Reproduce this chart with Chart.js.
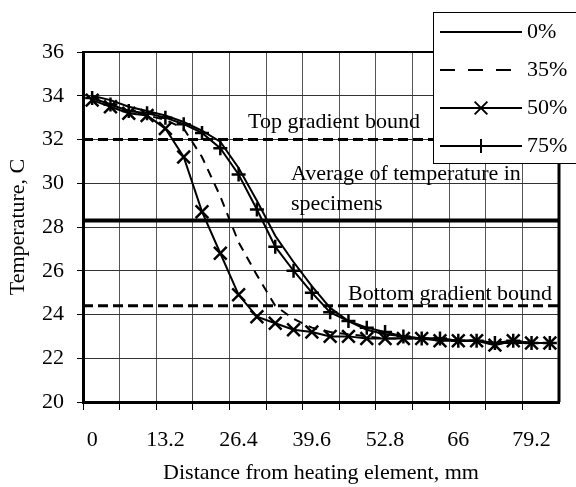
<!DOCTYPE html>
<html>
<head>
<meta charset="utf-8">
<script src="https://cdn.jsdelivr.net/npm/chart.js@4/dist/chart.umd.min.js"></script>
<style>
  html, body { margin: 0; padding: 0; background: #fff; }
  canvas { display: block; }
</style>
</head>
<body>
<canvas id="tempChart" width="576" height="487"></canvas>
<script>
// distance from heating element, mm (one category per reading)
const categories = ['0', '3.3', '6.6', '9.9', '13.2', '16.5', '19.8', '23.1', '26.4', '29.7', '33', '36.3', '39.6',
    '42.9', '46.2', '49.5', '52.8', '56.1', '59.4', '62.7', '66', '69.3', '72.6', '75.9', '79.2', '82.5'];

// temperature, C
const temp0 = [34.0, 33.8, 33.5, 33.3, 33.1, 32.8, 32.4, 31.9, 30.7, 29.2, 27.6, 26.4, 25.3,
    24.3, 23.7, 23.3, 23.1, 23.0, 22.9, 22.9, 22.8, 22.8, 22.7, 22.7, 22.7, 22.7];
const temp35 = [33.9, 33.6, 33.3, 33.1, 32.9, 32.5, 31.2, 29.4, 27.3, 25.8, 24.4, 23.8, 23.4,
    23.2, 23.1, 23.0, 22.9, 22.9, 22.9, 22.8, 22.8, 22.8, 22.7, 22.8, 22.7, 22.7];
const temp50 = [33.8, 33.5, 33.2, 33.1, 32.5, 31.2, 28.7, 26.8, 24.9, 23.9, 23.6, 23.3, 23.2,
    23.0, 23.0, 22.9, 22.9, 22.9, 22.9, 22.8, 22.8, 22.8, 22.6, 22.8, 22.7, 22.7];
const temp75 = [33.9, 33.6, 33.3, 33.2, 33.0, 32.7, 32.3, 31.6, 30.4, 28.8, 27.1, 26.0, 25.0,
    24.1, 23.7, 23.4, 23.2, 23.0, 22.9, 22.9, 22.8, 22.8, 22.7, 22.8, 22.7, 22.7];
const seriesLabels = ['0%', '35%', '50%', '75%'];

// horizontal reference lines
const topBound = 32;
const averageTemp = 28.3;
const bottomBound = 24.4;
const yTicks = [20, 22, 24, 26, 28, 30, 32, 34, 36];

const FONT = { family: '"Liberation Serif", "Times New Roman", serif', size: 22 };
const fontStr = '22px "Liberation Serif", "Times New Roman", serif';

const hLine = (v) => [{ x: 0, y: v }, { x: 1, y: v }];

// annotation texts + legend drawn over the plot
const overlay = {
    id: 'overlay',
    afterDraw(chart) {
        const { ctx, chartArea: a, scales: { y } } = chart;
        ctx.save();
        // plot frame
        ctx.strokeStyle = '#000';
        ctx.lineWidth = 2;
        ctx.beginPath();
        ctx.moveTo(a.left, a.top);
        ctx.lineTo(a.right, a.top);
        ctx.stroke();
        ctx.lineWidth = 3;
        ctx.beginPath();
        ctx.moveTo(a.right, a.top);
        ctx.lineTo(a.right, a.bottom);
        ctx.stroke();

        ctx.font = fontStr;
        ctx.fillStyle = '#000';
        ctx.textBaseline = 'middle';
        ctx.textAlign = 'left';
        ctx.fillText('Top gradient bound', 248, y.getPixelForValue(topBound) - 17);
        ctx.fillText('Average of temperature in', 291, y.getPixelForValue(averageTemp) - 46);
        ctx.fillText('specimens', 291, y.getPixelForValue(averageTemp) - 16);
        ctx.fillText('Bottom gradient bound', 348, y.getPixelForValue(bottomBound) - 12);

        // legend box
        const bx = 433, by = 12, bw = 150, bh = 151;
        ctx.fillStyle = '#fff';
        ctx.fillRect(bx, by, bw, bh);
        ctx.strokeStyle = '#000';
        ctx.lineWidth = 1;
        ctx.strokeRect(bx + 0.5, by + 0.5, bw, bh);
        chart.data.datasets.slice(0, 4).forEach((ds, i) => {
            const ry = 32 + i * 38;
            ctx.strokeStyle = '#000';
            ctx.lineWidth = 2;
            ctx.setLineDash(ds.borderDash && ds.borderDash.length ? [15, 13] : []);
            ctx.beginPath();
            ctx.moveTo(440, ry);
            ctx.lineTo(522, ry);
            ctx.stroke();
            ctx.setLineDash([]);
            if (ds.pointRadius > 0) {
                Chart.helpers.drawPoint(ctx, { pointStyle: ds.pointStyle, radius: ds.pointRadius, borderWidth: 2.5, rotation: 0 }, 481, ry);
            }
            ctx.fillStyle = '#000';
            ctx.fillText(ds.label, 527, ry);
        });
        ctx.restore();
    }
};

const lineStyle = { borderColor: '#000', backgroundColor: '#000', borderWidth: 2, tension: 0, xAxisID: 'x', yAxisID: 'y' };

new Chart(document.getElementById('tempChart').getContext('2d'), {
    type: 'line',
    data: {
        labels: categories,
        datasets: [
            { ...lineStyle, label: seriesLabels[0], data: temp0, pointRadius: 0 },
            { ...lineStyle, label: seriesLabels[1], data: temp35, pointRadius: 0, borderDash: [9, 7] },
            { ...lineStyle, label: seriesLabels[2], data: temp50, pointStyle: 'crossRot', pointRadius: 9, pointBorderWidth: 2.5 },
            { ...lineStyle, label: seriesLabels[3], data: temp75, pointStyle: 'cross', pointRadius: 7, pointBorderWidth: 2.5 },
            { label: 'top', data: hLine(topBound), xAxisID: 'xLine', borderColor: '#000', borderWidth: 3, borderDash: [10, 5], pointRadius: 0 },
            { label: 'avg', data: hLine(averageTemp), xAxisID: 'xLine', borderColor: '#000', borderWidth: 4, pointRadius: 0 },
            { label: 'bottom', data: hLine(bottomBound), xAxisID: 'xLine', borderColor: '#000', borderWidth: 3, borderDash: [10, 5], pointRadius: 0 }
        ]
    },
    options: {
        responsive: false,
        animation: false,
        layout: { padding: { left: 0, right: 17, top: 52, bottom: 0 } },
        plugins: { legend: { display: false }, tooltip: { enabled: false } },
        scales: {
            x: {
                type: 'category',
                offset: true,
                grid: {
                    offset: true,
                    lineWidth: 1,
                    tickLength: 8,
                    color: c => c.index % 2 === 0 ? '#555' : 'transparent',
                    tickColor: c => c.index % 2 === 0 ? '#000' : 'transparent'
                },
                border: { color: '#000', width: 3 },
                ticks: {
                    autoSkip: false,
                    maxRotation: 0,
                    padding: 17,
                    color: '#000',
                    font: FONT,
                    callback: (v, i) => i % 4 === 0 ? categories[i] : ''
                },
                title: { display: true, text: 'Distance from heating element, mm', color: '#000', font: FONT, padding: { top: 0, bottom: 1 } },
                afterFit: s => { s.height = 85; }
            },
            xLine: { type: 'linear', display: false, min: 0, max: 1 },
            y: {
                min: 20,
                max: 36,
                afterBuildTicks: s => { s.ticks = yTicks.map(v => ({ value: v })); },
                grid: { color: '#333', lineWidth: 1, tickLength: 6, tickColor: '#000' },
                border: { color: '#000', width: 3 },
                ticks: { padding: 13, color: '#000', font: FONT },
                title: { display: true, text: 'Temperature, C', color: '#000', font: FONT, padding: { top: 5, bottom: 4 } },
                afterFit: s => { s.width = 83; }
            }
        }
    },
    plugins: [overlay]
});
</script>
</body>
</html>
